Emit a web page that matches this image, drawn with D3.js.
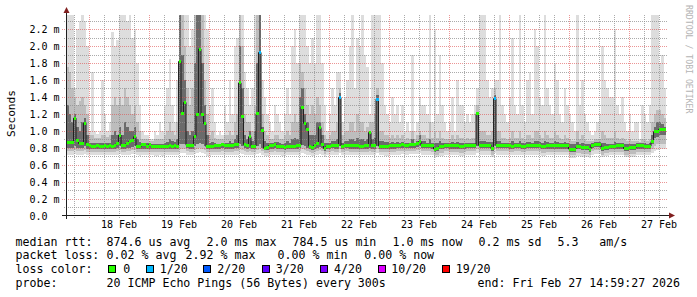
<!DOCTYPE html>
<html><head><meta charset="utf-8">
<script src="https://cdn.jsdelivr.net/npm/d3@7"></script>
<style>
html,body{margin:0;padding:0;background:#fff;}
svg{display:block;}
text{font-family:"DejaVu Sans Mono",monospace;fill:#000;}
</style></head><body>
<svg id="c" width="697" height="297"></svg>
<script>
// hourly columns, values in milliseconds
const rttMedian = [
0.86,0.86,0.86,1.15,0.89,0.85,0.85,1.09,0.84,0.83,0.82,0.82,0.83,0.82,0.82,0.83,0.82,0.83,0.82,0.83,
0.85,0.95,0.83,0.83,0.855,0.87,0.89,0.93,0.82,0.81,0.835,0.835,0.82,0.835,0.82,0.815,0.815,0.82,0.815,0.82,
0.82,0.83,0.82,0.83,0.82,1.82,1.21,1.335,0.83,0.83,0.83,0.935,1.19,1.965,1.19,1.085,0.81,0.81,0.82,0.825,
0.83,0.83,0.835,0.83,0.825,0.83,0.83,0.84,0.84,1.566,1.168,0.84,0.83,0.93,0.82,0.82,1.2,1.925,1.006,0.793,
0.80,0.825,0.825,0.84,0.82,0.82,0.81,0.80,0.82,0.82,0.82,0.82,0.825,0.83,1.278,1.089,1.018,0.82,0.80,0.83,
0.85,1.038,0.84,0.79,0.82,0.82,0.83,0.825,0.825,1.393,0.82,0.83,0.83,0.825,0.825,0.825,0.825,0.82,0.82,0.825,
0.825,0.98,0.825,0.825,1.373,0.82,0.82,0.815,0.815,0.825,0.825,0.825,0.83,0.83,0.84,0.83,0.83,0.84,0.84,0.84,
0.85,0.872,0.83,0.83,0.83,0.83,0.83,0.785,0.79,0.81,0.81,0.83,0.83,0.825,0.825,0.825,0.825,0.81,0.81,0.825,
0.83,0.83,0.83,0.83,1.2,0.83,0.83,0.83,0.83,0.83,0.79,1.38,0.83,0.83,0.83,0.83,0.83,0.825,0.82,0.83,
0.83,0.83,0.82,0.82,0.83,0.83,0.83,0.83,0.83,0.83,0.81,0.81,0.825,0.825,0.825,0.825,0.825,0.825,0.825,0.825,
0.825,0.785,0.785,0.785,0.81,0.81,0.80,0.80,0.80,0.785,0.83,0.84,0.84,0.84,0.79,0.805,0.805,0.815,0.815,0.815,
0.825,0.825,0.825,0.79,0.79,0.80,0.80,0.80,0.825,0.825,0.825,0.82,0.82,0.82,0.872,0.99,0.99,1.018,1.018,1.018];

const rttMax = [
2.37,2.37,2.37,1.5,2.2,2.3,2.37,2.3,2.0,1.0,1.7,1.0,0.96,1.0,1.6,1.2,1.0,1.1,2.17,2.0,
2.07,2.37,2.37,2.37,2.3,2.37,2.1,2.2,1.8,1.3,1.0,0.95,0.95,0.9,0.9,1.0,0.95,1.1,1.0,1.3,
1.5,1.85,1.3,1.1,1.6,2.37,2.37,2.37,2.37,2.0,2.2,2.37,2.37,2.37,2.37,2.37,2.2,1.3,1.5,1.1,
0.95,1.0,0.95,1.3,1.1,1.6,1.2,2.0,2.1,2.37,2.37,1.7,1.5,1.3,1.5,2.37,2.37,2.37,1.6,1.4,
1.2,1.1,1.0,1.3,1.2,1.1,1.0,1.2,1.5,1.2,2.0,2.2,1.8,2.37,2.37,2.37,2.0,1.8,2.1,1.8,
2.37,2.37,1.8,1.3,1.0,1.2,1.5,1.3,1.7,1.7,1.1,1.4,1.6,2.0,2.37,1.5,2.1,2.0,2.37,1.9,
1.75,1.2,2.37,2.37,2.37,2.37,1.8,1.3,1.2,1.1,1.4,1.2,1.3,1.1,1.3,1.0,1.1,1.0,1.9,1.0,
1.1,1.4,1.3,1.3,1.2,2.37,1.1,2.2,1.2,1.9,1.3,1.1,1.0,1.1,1.4,1.0,1.6,1.3,1.3,1.1,
1.2,1.1,1.2,1.3,1.5,2.37,2.37,2.37,1.6,1.4,1.5,1.6,1.6,2.37,1.3,1.2,1.1,1.4,2.1,1.3,
1.2,2.37,1.3,1.1,1.6,1.7,1.2,2.2,2.0,1.4,1.3,2.37,1.5,1.3,1.2,1.8,1.6,1.2,1.1,1.5,
1.3,1.2,1.1,1.0,2.37,1.3,1.6,1.2,1.1,1.0,0.95,1.0,1.1,1.2,2.0,1.6,1.5,1.4,1.4,2.2,
1.3,1.2,1.4,1.1,1.0,1.2,1.0,1.1,1.1,0.9,1.3,1.2,1.1,1.3,2.37,2.37,2.37,1.8,1.9,1.5];

const rttP90 = [
1.75,1.7,1.5,1.4,1.3,1.35,1.4,1.3,1.2,0.95,0.95,0.92,0.92,0.92,0.95,0.95,0.93,0.95,1.3,1.4,
1.3,1.4,1.3,1.5,1.4,1.3,1.2,1.3,1.1,1.0,0.9,0.9,0.9,0.88,0.88,0.9,0.9,0.9,0.9,0.95,
1.0,1.1,1.0,0.95,1.1,2.37,2.37,2.0,1.5,1.3,1.5,2.37,2.37,2.37,2.37,1.6,1.2,0.95,1.0,0.92,
0.9,0.9,0.9,0.95,0.95,1.0,0.95,1.1,1.2,2.37,2.0,1.2,1.1,1.1,1.0,1.3,2.37,2.37,1.2,1.0,
0.95,0.9,0.9,0.95,0.95,0.9,0.9,0.95,1.0,0.95,1.1,1.2,1.1,1.8,1.7,1.5,1.3,1.2,1.3,1.2,
1.4,1.3,1.1,0.95,0.9,0.95,1.0,1.0,1.1,1.5,0.95,1.0,1.0,1.1,1.1,1.0,1.2,1.1,1.1,1.0,
1.05,1.1,1.1,1.2,1.5,1.0,1.0,0.95,0.95,0.92,0.95,0.92,0.95,0.92,0.95,0.9,0.92,0.9,1.0,0.9,
0.95,1.0,0.95,0.95,0.92,1.1,0.92,1.0,0.92,1.0,0.92,0.9,0.9,0.9,0.95,0.9,0.95,0.92,0.92,0.9,
0.92,0.9,0.92,0.92,1.3,1.0,1.0,1.0,0.95,0.95,1.0,1.5,1.0,1.0,0.92,0.92,0.9,0.92,1.0,0.92,
0.92,1.0,0.92,0.9,0.95,0.95,0.92,1.0,1.0,0.95,0.92,1.0,0.95,0.92,0.92,1.0,0.95,0.92,0.9,0.95,
0.92,0.9,0.88,0.88,1.0,0.9,0.95,0.9,0.88,0.88,0.88,0.9,0.9,0.9,1.0,0.95,0.92,0.92,0.92,1.0,
0.92,0.9,0.92,0.9,0.88,0.9,0.88,0.88,0.88,0.87,0.9,0.9,0.88,0.9,1.1,1.2,1.25,1.25,1.2,1.15];

const rttP75 = [
1.3,1.2,1.1,1.2,1.05,1.0,1.1,1.15,0.95,0.86,0.86,0.86,0.86,0.86,0.86,0.86,0.86,0.86,0.95,1.0,
0.95,1.05,0.95,1.1,1.05,1.0,1.0,1.05,0.9,0.87,0.86,0.86,0.86,0.85,0.85,0.85,0.85,0.85,0.85,0.86,
0.87,0.9,0.88,0.87,0.9,2.37,1.9,1.6,1.0,0.95,1.0,1.8,2.37,2.37,1.8,1.3,0.95,0.86,0.87,0.86,
0.85,0.85,0.86,0.86,0.86,0.88,0.86,0.9,0.95,2.0,1.5,0.95,0.9,1.0,0.88,1.0,1.8,2.37,1.05,0.88,
0.86,0.86,0.86,0.87,0.87,0.86,0.85,0.86,0.88,0.86,0.9,0.92,0.9,1.4,1.5,1.2,1.1,0.95,0.95,0.95,
1.1,1.1,0.95,0.86,0.86,0.86,0.88,0.88,0.9,1.45,0.86,0.88,0.88,0.9,0.9,0.88,0.92,0.9,0.9,0.88,
0.9,1.0,0.9,0.92,1.42,0.88,0.88,0.87,0.87,0.86,0.87,0.86,0.87,0.86,0.87,0.86,0.86,0.86,0.9,0.86,
0.88,0.95,0.88,0.88,0.86,0.9,0.86,0.86,0.86,0.88,0.86,0.86,0.86,0.86,0.87,0.86,0.87,0.86,0.86,0.86,
0.86,0.86,0.86,0.86,1.22,0.88,0.88,0.88,0.87,0.87,0.87,1.42,0.88,0.88,0.86,0.86,0.86,0.86,0.88,0.86,
0.86,0.88,0.86,0.86,0.87,0.87,0.86,0.88,0.88,0.87,0.86,0.88,0.87,0.86,0.86,0.88,0.87,0.86,0.86,0.87,
0.86,0.85,0.84,0.84,0.87,0.85,0.86,0.85,0.84,0.84,0.86,0.87,0.87,0.87,0.86,0.86,0.85,0.85,0.85,0.87,
0.86,0.86,0.86,0.84,0.84,0.85,0.84,0.84,0.86,0.86,0.86,0.86,0.85,0.86,0.95,1.05,1.1,1.1,1.08,1.05];

const rttP25 = [
0.80,0.80,0.80,0.82,0.80,0.80,0.80,0.82,0.79,0.79,0.79,0.79,0.79,0.79,0.79,0.79,0.79,0.79,0.79,0.79,
0.80,0.82,0.79,0.79,0.80,0.80,0.81,0.82,0.79,0.78,0.79,0.79,0.79,0.79,0.79,0.785,0.785,0.79,0.785,0.79,
0.79,0.79,0.79,0.79,0.79,0.84,0.84,0.84,0.80,0.79,0.79,0.82,0.84,0.86,0.84,0.82,0.78,0.78,0.79,0.79,
0.79,0.79,0.80,0.79,0.79,0.79,0.79,0.80,0.80,0.84,0.82,0.80,0.79,0.80,0.79,0.79,0.82,0.84,0.80,0.77,
0.77,0.79,0.79,0.80,0.79,0.79,0.78,0.77,0.79,0.79,0.79,0.79,0.79,0.80,0.83,0.82,0.80,0.79,0.77,0.79,
0.80,0.81,0.80,0.76,0.79,0.79,0.80,0.79,0.79,0.82,0.79,0.80,0.80,0.79,0.79,0.79,0.79,0.79,0.79,0.79,
0.79,0.80,0.79,0.79,0.82,0.79,0.79,0.78,0.78,0.79,0.79,0.79,0.80,0.80,0.80,0.80,0.80,0.80,0.80,0.80,
0.81,0.82,0.80,0.80,0.80,0.80,0.79,0.75,0.76,0.78,0.78,0.80,0.80,0.79,0.79,0.79,0.79,0.78,0.78,0.79,
0.80,0.80,0.80,0.80,0.82,0.80,0.80,0.80,0.80,0.80,0.76,0.82,0.80,0.80,0.80,0.80,0.80,0.79,0.79,0.80,
0.80,0.80,0.79,0.79,0.80,0.80,0.80,0.80,0.80,0.80,0.78,0.78,0.79,0.79,0.79,0.79,0.79,0.79,0.79,0.79,
0.79,0.75,0.75,0.75,0.78,0.78,0.77,0.77,0.77,0.75,0.80,0.81,0.81,0.81,0.76,0.77,0.77,0.78,0.78,0.78,
0.79,0.79,0.79,0.76,0.76,0.77,0.77,0.77,0.79,0.79,0.79,0.79,0.79,0.79,0.84,0.92,0.93,0.95,0.95,0.95];

const rttP10 = [
0.76,0.76,0.76,0.77,0.76,0.76,0.76,0.77,0.755,0.755,0.755,0.755,0.755,0.755,0.755,0.755,0.755,0.755,0.755,0.755,
0.76,0.77,0.755,0.755,0.76,0.76,0.77,0.77,0.75,0.745,0.755,0.755,0.75,0.75,0.75,0.745,0.745,0.75,0.745,0.75,
0.75,0.755,0.75,0.755,0.75,0.79,0.79,0.79,0.76,0.755,0.755,0.77,0.79,0.80,0.79,0.77,0.745,0.745,0.75,0.755,
0.755,0.755,0.76,0.755,0.755,0.755,0.755,0.76,0.76,0.78,0.77,0.76,0.755,0.76,0.75,0.75,0.77,0.78,0.76,0.735,
0.735,0.75,0.75,0.76,0.75,0.75,0.745,0.735,0.75,0.75,0.75,0.75,0.755,0.76,0.78,0.77,0.76,0.75,0.735,0.755,
0.76,0.77,0.76,0.725,0.75,0.75,0.76,0.755,0.755,0.78,0.75,0.76,0.76,0.755,0.755,0.755,0.755,0.75,0.75,0.755,
0.755,0.76,0.755,0.755,0.78,0.75,0.75,0.745,0.745,0.755,0.755,0.755,0.76,0.76,0.765,0.76,0.76,0.765,0.765,0.765,
0.77,0.78,0.76,0.76,0.76,0.76,0.755,0.715,0.72,0.74,0.74,0.76,0.76,0.755,0.755,0.755,0.755,0.74,0.74,0.755,
0.76,0.76,0.76,0.76,0.78,0.76,0.76,0.76,0.76,0.76,0.72,0.78,0.76,0.76,0.76,0.76,0.76,0.755,0.75,0.76,
0.76,0.76,0.75,0.75,0.76,0.76,0.76,0.76,0.76,0.76,0.74,0.74,0.755,0.755,0.755,0.755,0.755,0.755,0.755,0.755,
0.755,0.715,0.715,0.715,0.74,0.74,0.73,0.73,0.73,0.715,0.76,0.77,0.77,0.77,0.72,0.735,0.735,0.745,0.745,0.745,
0.755,0.755,0.755,0.72,0.72,0.73,0.73,0.73,0.755,0.755,0.755,0.75,0.75,0.75,0.78,0.82,0.84,0.85,0.85,0.85];

const rttMin = [
0.72,0.72,0.72,0.73,0.72,0.72,0.72,0.73,0.71,0.71,0.72,0.72,0.72,0.72,0.71,0.72,0.72,0.72,0.72,0.72,
0.72,0.73,0.72,0.72,0.72,0.72,0.73,0.73,0.71,0.70,0.72,0.72,0.71,0.71,0.71,0.70,0.70,0.71,0.70,0.71,
0.71,0.72,0.71,0.72,0.71,0.74,0.74,0.74,0.72,0.72,0.72,0.73,0.74,0.75,0.74,0.73,0.70,0.70,0.71,0.72,
0.72,0.72,0.72,0.72,0.72,0.72,0.72,0.72,0.72,0.74,0.73,0.72,0.72,0.72,0.71,0.71,0.73,0.74,0.72,0.70,
0.70,0.71,0.71,0.72,0.71,0.71,0.70,0.70,0.71,0.71,0.71,0.71,0.72,0.72,0.74,0.73,0.72,0.71,0.70,0.72,
0.72,0.73,0.72,0.69,0.71,0.71,0.72,0.72,0.72,0.74,0.71,0.72,0.72,0.72,0.72,0.72,0.72,0.71,0.71,0.72,
0.72,0.72,0.72,0.72,0.74,0.71,0.71,0.70,0.70,0.72,0.72,0.72,0.72,0.72,0.73,0.72,0.72,0.73,0.73,0.73,
0.73,0.74,0.72,0.72,0.72,0.72,0.72,0.68,0.69,0.70,0.70,0.72,0.72,0.72,0.72,0.72,0.72,0.70,0.70,0.72,
0.72,0.72,0.72,0.72,0.74,0.72,0.72,0.72,0.72,0.72,0.69,0.74,0.72,0.72,0.72,0.72,0.72,0.72,0.71,0.72,
0.72,0.72,0.71,0.71,0.72,0.72,0.72,0.72,0.72,0.72,0.70,0.70,0.72,0.72,0.72,0.72,0.72,0.72,0.72,0.72,
0.72,0.68,0.68,0.68,0.70,0.70,0.69,0.69,0.69,0.68,0.72,0.73,0.73,0.73,0.69,0.70,0.70,0.71,0.71,0.71,
0.72,0.72,0.72,0.69,0.69,0.69,0.69,0.69,0.72,0.72,0.72,0.71,0.71,0.71,0.74,0.76,0.77,0.78,0.78,0.78];

const lossCount = [
0,0,0,0,0,0,0,0,0,0,0,0,0,0,0,0,0,0,0,0,
0,0,0,0,0,0,0,0,0,0,0,0,0,0,0,0,0,0,0,0,
0,0,0,0,0,0,0,0,0,0,0,0,0,0,0,0,0,0,0,0,
0,0,0,0,0,0,0,0,0,0,0,0,0,0,0,0,0,1,0,0,
0,0,0,0,0,0,0,0,0,0,0,0,0,0,0,0,0,0,0,0,
0,0,0,0,0,0,0,0,0,1,0,0,0,0,0,0,0,0,0,0,
0,0,0,0,1,0,0,0,0,0,0,0,0,0,0,0,0,0,0,0,
0,0,0,0,0,0,0,0,0,0,0,0,0,0,0,0,0,0,0,0,
0,0,0,0,0,0,0,0,0,0,0,1,0,0,0,0,0,0,0,0,
0,0,0,0,0,0,0,0,0,0,0,0,0,0,0,0,0,0,0,0,
0,0,0,0,0,0,0,0,0,0,0,0,0,0,0,0,0,0,0,0,
0,0,0,0,0,0,0,0,0,0,0,0,0,0,0,0,0,0,0,0];

const lossLevels = [0,1,2,3,4,10,19];
const lossLabels = ["0","1/20","2/20","3/20","4/20","10/20","19/20"];
const lossColors = ["#26ff00","#00b8ff","#0059ff","#5e00ff","#7e00ff","#dd00ff","#ff0000"];

const xTickLabels = ["18 Feb","19 Feb","20 Feb","21 Feb","22 Feb","23 Feb","24 Feb","25 Feb","26 Feb","27 Feb"];
const yTickValues = [0,0.2,0.4,0.6,0.8,1.0,1.2,1.4,1.6,1.8,2.0,2.2];
const yTickLabels = ["0.0","0.2 m","0.4 m","0.6 m","0.8 m","1.0 m","1.2 m","1.4 m","1.6 m","1.8 m","2.0 m","2.2 m"];

const legendLines = [
  [["median rtt:",15.6],["874.6 us avg",106.6],["2.0 ms max",206.6],["784.5 us min",292.6],["1.0 ms now",392.6],["0.2 ms sd",478.6],["5.3",557.6],["am/s",599.3]],
  [["packet loss:",15.6],["0.02 % avg",106.6],["2.92 % max",185.6],["0.00 % min",277.6],["0.00 % now",364.3]],
  [["loss color:",15.6]],
  [["probe:",15.6],["20 ICMP Echo Pings (56 Bytes) every 300s",106.6],["end: Fri Feb 27 14:59:27 2026",477.6]]
];
const lossLegendPos = [[108.5,124],[146.5,160.5],[203.5,218],[262,276.5],[320.5,334.8],[378,392],[442.5,456.5]];

// ---------- drawing ----------
const svg = d3.select("#c");
const tStart = Date.UTC(2026,1,17,14,59,27), tEnd = Date.UTC(2026,1,27,14,59,27);
const HOUR = 3600e3;
const col0 = Date.UTC(2026,1,17,15,0,0);
const x = d3.scaleUtc().domain([tStart,tEnd]).range([66,666]);
const y = d3.scaleLinear().domain([0,2.37]).range([215.5,14.8]);
const cols = rttMedian.map((m,i)=>({i, t0: col0 + i*HOUR, t1: col0 + (i+1)*HOUR}));
const yc = v => Math.max(14.8, y(v));

const plot = svg.append("g");
// smoke bands (outer light -> inner dark)
const bands = [[rttMin,rttMax,"#dddddd"],[rttP10,rttP90,"#bdbdbd"],[rttP25,rttP75,"#6b6b6b"]];
bands.forEach(([lo,hi,c])=>{
  plot.append("g").attr("shape-rendering","crispEdges").selectAll("rect").data(cols).join("rect")
    .attr("x",d=>x(d.t0)).attr("width",d=>x(d.t1)-x(d.t0))
    .attr("y",d=>yc(hi[d.i])).attr("height",d=>Math.max(0,y(lo[d.i])-yc(hi[d.i])))
    .attr("fill",c);
});

// grid
const grid = svg.append("g").attr("shape-rendering","crispEdges").attr("stroke-dasharray","1,1");
const gridC = "rgba(143,143,143,0.75)", mgridC = "rgba(222,79,79,0.6)";
d3.range(1,24).filter(k=>k%2===1).forEach(k=>{
  const yy = Math.round(y(k/10))+0.5;
  grid.append("line").attr("x1",64).attr("x2",668).attr("y1",yy).attr("y2",yy).attr("stroke",gridC);
});
yTickValues.slice(1).forEach(v=>{
  const yy = Math.round(y(v))+0.5;
  grid.append("line").attr("x1",62).attr("x2",668).attr("y1",yy).attr("y2",yy).attr("stroke",mgridC);
});
d3.utcHour.every(6).range(tStart,tEnd).forEach(t=>{
  const xx = Math.round(x(t))+0.5;
  const major = new Date(t).getUTCHours()===0;
  grid.append("line").attr("x1",xx).attr("x2",xx).attr("y1",15).attr("y2",218)
    .attr("stroke",major?mgridC:gridC);
});

// median line
const pts = cols.map(d=>[x(d.t0),y(rttMedian[d.i])]);
pts.push([x(cols[cols.length-1].t1), y(rttMedian[cols.length-1])]);
svg.append("path").attr("d",d3.line().curve(d3.curveStepAfter)(pts))
  .attr("fill","none").attr("stroke","#202020").attr("stroke-width",1);

function lossColor(n){ let k=0; lossLevels.forEach((l,j)=>{ if(n>=l) k=j; }); return lossColors[k]; }
svg.append("g").attr("shape-rendering","crispEdges").selectAll("rect").data(cols).join("rect")
  .attr("x",d=>x(d.t0)).attr("width",d=>x(d.t1)-x(d.t0))
  .attr("y",d=>y(rttMedian[d.i])-1.5).attr("height",3)
  .attr("fill",d=>lossColor(lossCount[d.i]));

// axes
const ax = svg.append("g");
ax.append("line").attr("x1",62).attr("x2",670).attr("y1",215.5).attr("y2",215.5).attr("stroke","#1f1f1f");
ax.append("line").attr("x1",66.5).attr("x2",66.5).attr("y1",219).attr("y2",12).attr("stroke","#1f1f1f");
ax.append("path").attr("d","M63.5,13 L69.5,13 L66.5,7 Z").attr("fill","#801f1f");
ax.append("path").attr("d","M669,212.5 L669,218.5 L675,215.5 Z").attr("fill","#801f1f");

const noons = xTickLabels.map((l,i)=>Date.UTC(2026,1,18+i,12));
const xAxis = d3.axisBottom(x).tickValues(noons).tickFormat((d,i)=>xTickLabels[i]).tickSize(0).tickPadding(0);
const gx = svg.append("g").attr("transform","translate(0,215.5)").call(xAxis);
gx.select(".domain").remove();
gx.selectAll("text").attr("y",12.8).attr("dy",null).attr("font-family","DejaVu Sans Mono").attr("font-size",10).attr("fill","#000");

const yAxis = d3.axisLeft(y).tickValues(yTickValues).tickFormat((d,i)=>yTickLabels[i]).tickSize(0);
const gy = svg.append("g").attr("transform","translate(66,0)").call(yAxis);
gy.select(".domain").remove();
gy.selectAll("text").attr("x",29.5-66).attr("text-anchor","start").attr("dy","0.36em")
  .attr("font-family","DejaVu Sans Mono").attr("font-size",10).attr("fill","#000");

svg.append("text").attr("transform","translate(14.5,113.5) rotate(-90)").attr("text-anchor","middle")
  .attr("font-size",11.2).text("Seconds");
svg.append("text").attr("transform","translate(685.5,5) rotate(90)").attr("font-size",8.2)
  .style("fill","#b4b4b4").text("RRDTOOL / TOBI OETIKER");

// legend
const baselines = [245.7,259.4,273.1,286.8];
legendLines.forEach((line,li)=>{
  line.forEach(([s,px])=>{
    svg.append("text").attr("x",px).attr("y",baselines[li]).attr("font-size",11.6)
      .style("white-space","pre").text(s);
  });
});
lossLabels.forEach((l,i)=>{
  const [bx,tx] = lossLegendPos[i];
  svg.append("rect").attr("x",bx).attr("y",265.5).attr("width",7).attr("height",7)
    .attr("fill",lossColors[i]).attr("stroke","#000").attr("stroke-width",1).attr("shape-rendering","crispEdges");
  svg.append("text").attr("x",tx-0.8).attr("y",baselines[2]).attr("font-size",11.6).text(l);
});
</script>
</body></html>
